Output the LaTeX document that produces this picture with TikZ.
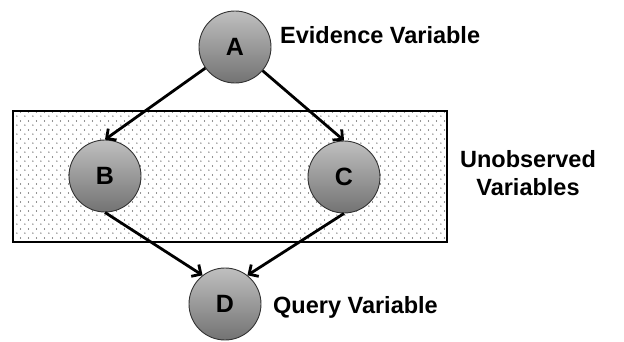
\documentclass[tikz,border=0pt]{standalone}
\usepackage{fontspec}
\setmainfont{Liberation Sans}
\usetikzlibrary{arrows.meta,patterns}
\pgfdeclarepatternformonly{sparsedots}{\pgfpointorigin}{\pgfpoint{8pt}{9pt}}{\pgfpoint{8pt}{9pt}}{%
  \pgfpathcircle{\pgfpoint{1pt}{1pt}}{0.7pt}%
  \pgfpathcircle{\pgfpoint{5pt}{5.5pt}}{0.7pt}%
  \pgfusepath{fill}}
\tikzset{
  var/.style={circle,draw=black!80,line width=0.9pt,minimum size=72pt,inner sep=0pt,
    top color=black!25,bottom color=black!55,font=\fontsize{25}{27}\selectfont\bfseries},
  lbl/.style={inner sep=0pt,font=\fontsize{23.5}{28}\selectfont\bfseries},
  edge/.style={line width=2.8pt,-{Straight Barb[length=7pt,width=14pt]}}
}

\begin{document}
\begin{tikzpicture}[x=1pt,y=-1pt]
  \useasboundingbox (0,0) rectangle (624,341);
  % zona no observada
  \draw[line width=2pt,pattern=sparsedots,pattern color=black!85] (13,111) rectangle (447,242);

  % variables
  \node[var] (A) at (235,47) {A};
  \node[var] (B) at (105,176) {B};
  \node[var] (C) at (344,177) {C};
  \node[var] (D) at (225,304) {D};

  % etiquetas
  \node[lbl,anchor=base west] (evid) at (280,43) {Evidence Variable};
  \node[lbl,align=center] (unobs) at (528,173) {Unobserved\\Variables};
  \node[lbl,anchor=base west] (query) at (273,313) {Query Variable};

  % aristas
  \draw[edge] (A) -- (B.north);
  \draw[edge] (A) -- (C.north);
  \draw[edge] (B.south) -- (D.128);
  \draw[edge] (C.south) -- (D.52);
\end{tikzpicture}
\end{document}
